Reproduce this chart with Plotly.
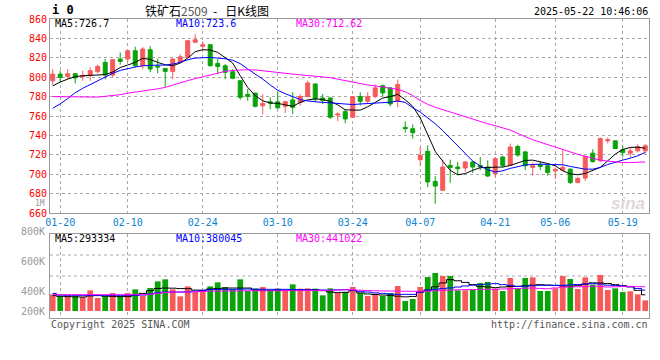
import plotly.graph_objects as go

dates = ["01-17","01-20","01-21","01-22","01-23","01-24","01-27",
         "02-05","02-06","02-07","02-10","02-11","02-12","02-13","02-14",
         "02-17","02-18","02-19","02-20","02-21","02-24","02-25","02-26","02-27","02-28",
         "03-03","03-04","03-05","03-06","03-07","03-10","03-11","03-12","03-13","03-14",
         "03-17","03-18","03-19","03-20","03-21","03-24","03-25","03-26","03-27","03-28","03-31",
         "04-01","04-02","04-03","04-07","04-08","04-09","04-10","04-11",
         "04-14","04-15","04-16","04-17","04-18","04-21","04-22","04-23","04-24","04-25",
         "04-28","04-29","04-30","05-06","05-07","05-08","05-09",
         "05-12","05-13","05-14","05-15","05-16","05-19","05-20","05-21","05-22"]

tick_labels = ["01-20","02-10","02-24","03-10","03-24","04-07","04-21","05-06","05-19"]
price_ticks = [660,680,700,720,740,760,780,800,820,840,860]

open_ = [796.4,803.2,800.9,803.6,800.5,802.2,805.6,815.3,802.2,818.7,
         818.7,827.3,811.8,828.3,811.5,809.0,806.0,815.3,820.4,836.0,
         831.8,833.5,814.2,811.8,805.6,796.4,782.3,783.6,770.6,774.7,
         774.7,770.0,776.6,774.0,780.0,793.0,778.6,778.6,761.0,764.5,
         758.7,780.0,775.2,780.0,791.3,789.0,775.2,748.3,746.9,715.0,
         723.6,692.6,683.4,709.1,707.4,706.4,712.6,709.0,707.4,700.6,
         717.7,709.1,728.6,723.0,707.0,709.7,708.7,703.5,704.2,705.2,
         691.5,696.0,721.7,713.8,734.4,734.4,725.2,721.7,724.1,724.1]
high = [808.4,806.7,808.4,804.0,806.7,810.1,813.0,818.7,818.7,825.6,
        828.0,831.4,831.0,832.0,819.0,809.5,819.7,823.8,838.6,844.5,
        837.0,834.0,818.7,813.5,808.4,797.0,787.8,784.0,782.6,779.2,
        785.0,775.0,784.5,782.7,796.5,793.7,782.7,779.0,763.8,767.3,
        780.5,784.5,784.5,792.4,792.4,789.5,797.5,754.5,751.4,728.0,
        729.8,698.0,715.0,715.0,712.6,713.3,713.3,717.7,714.3,717.7,
        719.0,731.5,730.3,724.0,712.0,713.1,710.4,707.0,725.0,706.0,
        697.3,719.0,725.8,737.9,737.9,734.4,729.3,727.6,731.0,731.0]
low = [791.9,794.6,798.1,793.7,796.4,796.4,804.0,797.7,799.8,813.0,
       816.0,810.0,808.0,805.0,804.0,790.0,798.0,814.6,819.7,835.2,
       827.3,811.0,803.2,798.0,798.0,776.8,775.7,768.9,762.0,767.0,
       767.0,762.8,762.0,770.7,779.3,774.2,772.4,757.0,754.6,752.5,
       758.0,770.7,772.4,778.6,780.0,770.0,769.0,742.8,736.6,708.5,
       686.8,669.6,683.0,691.3,698.8,702.3,701.2,704.0,697.1,697.1,
       707.0,708.5,718.0,704.5,698.4,704.2,698.4,695.0,703.5,689.8,
       690.5,693.0,712.0,713.0,731.7,726.0,718.0,717.3,722.4,721.4]
close = [803.2,799.8,803.6,799.2,801.9,806.7,811.1,802.2,818.0,816.3,
         827.3,811.8,829.0,808.4,810.5,806.0,818.7,821.0,837.6,838.6,
         833.5,811.8,811.1,805.0,798.8,779.2,780.2,770.0,773.0,773.3,
         768.5,774.8,769.0,780.0,794.0,777.6,775.9,758.7,762.1,757.0,
         780.0,775.2,780.0,789.0,783.8,772.4,792.4,747.0,742.8,719.5,
         692.0,687.8,707.4,707.0,705.7,712.6,707.4,707.4,698.1,716.0,
         709.1,728.0,719.7,708.7,708.7,708.0,701.8,704.9,707.0,691.5,
         695.6,718.3,713.0,736.8,735.5,726.5,722.4,724.0,728.3,729.3]

ma5 = [791,795,798,800.5,801.5,802,802.3,802.7,805.3,810,
       812.5,815.3,819.4,818.3,815.3,812.8,811.8,814.6,819.7,826.3,
       828.3,828,825.6,820.4,814.6,801.5,789.5,781,775.7,773.3,
       773,771.5,770,774,776.6,777.6,777,775,771.5,766.3,
       766,766,769.5,774,778.5,780,782.3,776.8,770,758,
       740,723.6,713.3,704,699.5,700.6,704,706.7,707,707,
       707.4,709,712,714.2,714.5,713.1,711,708.7,703.5,700.4,
       699.4,700.8,703.5,707,713.8,720.7,725.5,727.6,727.9,726.7]
ma10 = [768,772.5,778,784,788.5,792.5,796,800,804,807,
        809,810.5,811.8,812.5,812.5,812.5,813.5,815.3,818,819.7,
        820.4,820.4,819.7,819,817.5,814,808.5,803.5,798,792,
        786.5,783,780,777,775.5,774.5,774,773.5,773,772.4,
        771.8,772.4,773,773.1,773.5,774.2,775.5,774,768.5,764,
        758,752,745,737,729,720.5,713.5,708.5,704.5,702.3,
        703.5,706,708,709.5,710,710.4,710,709.5,709.7,708,
        706.3,705.2,705.2,707,710,712.5,714.5,716.5,719,722.5]
ma30 = [780,780,780,780,779.5,779.3,779.5,780.3,781,782,
        783.5,784.5,785.5,786.7,788,789.5,792,794.5,796.5,798.5,
        800.5,802.5,804.5,806,807,807.5,807.7,807.5,806.5,805.5,
        804.8,804,803.2,802.5,801.8,801,800.3,799.5,798,796.5,
        795,793,792,791,790,788.5,787.5,785,781,776,
        772,769,766.5,764.5,762,759.5,757,754.5,752,750,
        748,745.5,742,738.5,735.5,733,730.5,728,725,722.5,
        720.5,718.5,716.5,714.5,713.5,712.5,712,712,712,712.6]

volume = [303,273,267,273,255,376,236,273,327,273,
          327,394,273,418,539,576,394,267,448,345,
          376,448,521,436,394,576,364,406,436,376,
          406,376,485,406,412,406,285,412,327,345,
          436,327,273,315,273,327,455,182,218,436,
          618,691,636,636,376,376,394,509,527,406,
          364,600,406,600,612,364,364,412,636,582,
          400,612,479,655,382,412,345,358,303,194]
vma5 = [280,267,262,258,255,275,280,270,265,262,
        262,290,320,370,410,418,415,408,406,380,
        378,400,410,418,418,418,418,385,376,376,
        376,378,378,378,380,385,370,345,335,340,
        370,330,310,300,290,285,270,258,265,345,
        380,440,510,570,550,520,480,445,438,425,
        436,445,450,460,470,478,472,465,455,448,
        460,490,512,509,500,479,460,440,376,295]
vma10 = [320,290,285,285,285,285,285,285,285,285,
         285,285,290,310,330,345,345,345,348,360,
         375,390,394,394,394,400,400,398,395,394,
         394,394,390,388,385,384,382,378,385,388,
         375,358,345,330,320,308,303,303,303,345,
         380,395,406,420,436,455,470,479,490,497,
         480,467,445,452,460,467,467,467,467,475,
         482,490,497,490,470,462,455,440,410,380]
vma30 = [297,297,297,297,297,297,297,297,297,297,
         297,297,297,305,320,335,345,345,345,348,
         355,360,362,364,364,366,368,368,368,368,
         368,370,370,372,372,374,374,376,380,385,
         385,378,372,368,365,364,362,360,358,358,
         362,368,376,380,386,388,390,392,394,394,
         400,405,410,416,418,410,406,420,434,438,
         440,444,448,445,436,440,445,448,443,441]

RED = "#f65a5a"
GREEN = "#0aa30a"
MONO = "DejaVu Sans Mono"

W, H = 660, 360
def px(x): return x / W
def py(y): return 1 - y / H

vol_units = [v * 1000 for v in volume]
bar_colors = [RED if c >= o else GREEN for o, c in zip(open_, close)]

fig = go.Figure()
fig.add_trace(go.Candlestick(
    x=dates, open=open_, high=high, low=low, close=close,
    increasing=dict(line=dict(color=RED, width=1), fillcolor=RED),
    decreasing=dict(line=dict(color=GREEN, width=1), fillcolor=GREEN),
    whiskerwidth=0, xaxis="x", yaxis="y", hoverinfo="skip"))
for vals, col in [(ma5, "#000000"), (ma10, "#0000ff"), (ma30, "#ff00ff")]:
    fig.add_trace(go.Scatter(x=dates, y=vals, mode="lines",
                             line=dict(color=col, width=1),
                             xaxis="x", yaxis="y", hoverinfo="skip"))
fig.add_trace(go.Bar(x=dates, y=vol_units, marker=dict(color=bar_colors, line=dict(width=0)),
                     xaxis="x2", yaxis="y2", hoverinfo="skip"))
for vals, col in [(vma5, "#000000"), (vma10, "#0000ff"), (vma30, "#ff00ff")]:
    fig.add_trace(go.Scatter(x=dates, y=[v * 1000 for v in vals], mode="lines",
                             line=dict(color=col, width=1, shape="hvh"),
                             xaxis="x2", yaxis="y2", hoverinfo="skip"))

xdom = [px(50), px(649)]
grid = dict(showgrid=True, gridcolor="#a8a8a8", griddash="dot", gridwidth=1)
fig.update_layout(
    width=W, height=H, margin=dict(l=0, r=0, t=0, b=0, autoexpand=False),
    paper_bgcolor="white", plot_bgcolor="white", showlegend=False,
    boxgap=0.24, bargap=0.24,
    xaxis=dict(domain=xdom, anchor="y", type="category", range=[-0.36, 79.5],
               tickmode="array", tickvals=tick_labels, ticktext=tick_labels,
               tickfont=dict(family=MONO, size=10, color="#0a84d0"),
               ticks="", showline=True, mirror=True, linecolor="#999999", linewidth=1,
               rangeslider=dict(visible=False), fixedrange=True, automargin=False, **grid),
    yaxis=dict(domain=[py(213), py(19)], anchor="x", range=[660, 860],
               tickmode="array", tickvals=price_ticks, ticktext=[str(t) for t in price_ticks],
               tickfont=dict(family=MONO, size=10, color="#ff0000"),
               ticks="", showline=True, mirror=True, linecolor="#999999", linewidth=1,
               zeroline=False, automargin=False, **grid),
    xaxis2=dict(domain=xdom, anchor="y2", type="category", range=[-0.36, 79.5],
                matches="x", tickmode="array", tickvals=tick_labels, showticklabels=False,
                ticks="", showline=True, mirror=True, linecolor="#999999", linewidth=1,
                automargin=False, **grid),
    yaxis2=dict(domain=[py(318), py(234)], anchor="x2", range=[-127000, 1400000],
                showticklabels=False, showgrid=False, zeroline=False, ticks="",
                showline=True, mirror=True, linecolor="#999999", linewidth=1, automargin=False),
)

# volume panel horizontal dotted gridlines
for frac in [0.5, 0.75]:
    fig.add_shape(type="line", xref="x2 domain", yref="y2 domain", x0=0, x1=1, y0=frac, y1=frac,
                  line=dict(color="#a8a8a8", width=1, dash="dot"), layer="below")

def ann(text, x, y, color="#000", size=10, anchor="left", family=MONO, **kw):
    fig.add_annotation(text=text, x=px(x), y=py(y), xref="paper", yref="paper",
                       xanchor=anchor, yanchor="middle", showarrow=False,
                       font=dict(family=family, size=size, color=color), **kw)

ann("<b>i 0</b>", 50, 10, size=12)
ann("铁矿石<span style='color:#555555'>2509</span>&nbsp; -&nbsp;&nbsp; 日K线图", 207, 10, size=12,
    anchor="center", family="Noto Sans CJK SC")
ann("2025-05-22 10:46:06", 650, 11, anchor="right")
ann("MA5:726.7", 53, 24)
ann("MA10:723.6", 174, 24, color="#0000ff")
ann("MA30:712.62", 294, 24, color="#ff00ff")
ann("1M", 47, 203, color="#999999", anchor="right", size=8)
for lab, yy in [("800K", 231), ("600K", 261), ("400K", 291), ("200K", 311)]:
    ann(lab, 47, yy, color="#999999", anchor="right")
ann("MA5:293334", 53, 238)
ann("MA10:380045", 174, 238, color="#0000ff")
ann("MA30:441022", 294, 238, color="#ff00ff")
ann("Copyright 2025 SINA.COM", 49, 324, color="#555555")
ann("http://finance.sina.com.cn", 650, 324, color="#555555", anchor="right")
ann("<b><i>sina</i></b>", 628, 203, color="#e2d6d6", size=17, anchor="center", family="Liberation Sans")

fig.write_html("out.html", config={"displayModeBar": False},
               post_script="document.body.style.margin='0';document.body.style.padding='0';")
